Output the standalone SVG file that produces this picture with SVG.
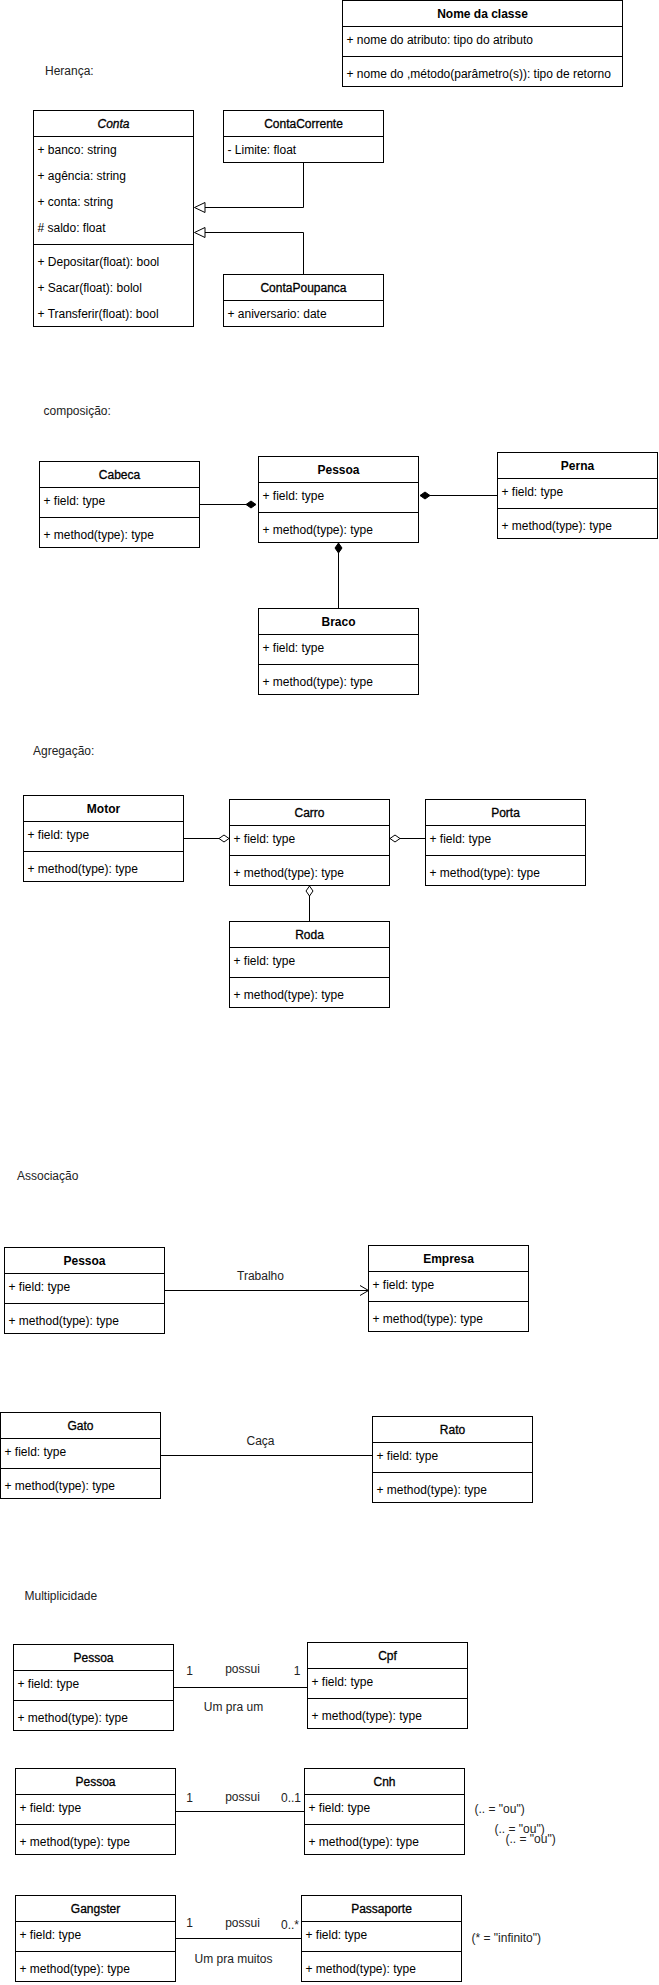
<svg xmlns="http://www.w3.org/2000/svg" width="659" height="1985" viewBox="0 0 659 1985">
<style>
.bg{fill:#fff}
.box{fill:#fff;stroke:#000;stroke-width:1}
.sep{stroke:#000;stroke-width:1}
.t{font-family:"Liberation Sans",Arial,Helvetica,sans-serif;font-size:12px;fill:#000}
.h{text-anchor:middle;font-weight:bold}
.hr{text-anchor:middle;stroke:#000;stroke-width:0.3}
.c{text-anchor:middle}
.lbl{font-family:"Liberation Sans",Arial,Helvetica,sans-serif;font-size:12px;fill:#222}
.edge{fill:none;stroke:#000;stroke-width:1}
.fd{fill:#000;stroke:#000;stroke-width:1}
.hd{fill:#fff;stroke:#000;stroke-width:1}
</style>
<rect class="bg" x="0" y="0" width="659" height="1985"/>

<!-- section labels -->
<g id="labels">
<text class="lbl" x="45" y="75">Herança:</text>
<text class="lbl" x="43.5" y="415">composição:</text>
<text class="lbl" x="33" y="755">Agregação:</text>
<text class="lbl" x="17" y="1180">Associação</text>
<text class="lbl" x="24.5" y="1600">Multiplicidade</text>
</g>

<!-- Nome da classe -->
<g id="nome-da-classe">
<rect class="box" x="342.5" y="0.5" width="280" height="86"/>
<line class="sep" x1="342.5" y1="26.5" x2="622.5" y2="26.5"/>
<line class="sep" x1="342.5" y1="56.5" x2="622.5" y2="56.5"/>
<text class="t h" x="482.5" y="17.5">Nome da classe</text>
<text class="t" x="346.5" y="43.5">+ nome do atributo: tipo do atributo</text>
<text class="t" x="346.5" y="77.5">+ nome do ,método(parâmetro(s)): tipo de retorno</text>
</g>

<!-- Conta -->
<g id="conta">
<rect class="box" x="33.5" y="110.5" width="160" height="216"/>
<line class="sep" x1="33.5" y1="136.5" x2="193.5" y2="136.5"/>
<line class="sep" x1="33.5" y1="244.5" x2="193.5" y2="244.5"/>
<text class="t hr" x="113.5" y="127.5" font-style="italic">Conta</text>
<text class="t" x="37.5" y="153.5">+ banco: string</text>
<text class="t" x="37.5" y="179.5">+ agência: string</text>
<text class="t" x="37.5" y="205.5">+ conta: string</text>
<text class="t" x="37.5" y="231.5"># saldo: float</text>
<text class="t" x="37.5" y="265.5">+ Depositar(float): bool</text>
<text class="t" x="37.5" y="291.5">+ Sacar(float): bolol</text>
<text class="t" x="37.5" y="317.5">+ Transferir(float): bool</text>
</g>

<g id="conta-corrente">
<rect class="box" x="223.5" y="110.5" width="160" height="52"/>
<line class="sep" x1="223.5" y1="136.5" x2="383.5" y2="136.5"/>
<text class="t hr" x="303.5" y="127.5">ContaCorrente</text>
<text class="t" x="227.5" y="153.5">- Limite: float</text>
</g>

<g id="conta-poupanca">
<rect class="box" x="223.5" y="274.5" width="160" height="52"/>
<line class="sep" x1="223.5" y1="300.5" x2="383.5" y2="300.5"/>
<text class="t hr" x="303.5" y="291.5">ContaPoupanca</text>
<text class="t" x="227.5" y="317.5">+ aniversario: date</text>
</g>

<!-- composição -->
<g id="cabeca">
<rect class="box" x="39.5" y="461.5" width="160" height="86"/>
<line class="sep" x1="39.5" y1="487.5" x2="199.5" y2="487.5"/>
<line class="sep" x1="39.5" y1="517.5" x2="199.5" y2="517.5"/>
<text class="t hr" x="119.5" y="478.5">Cabeca</text>
<text class="t" x="43.5" y="504.5">+ field: type</text>
<text class="t" x="43.5" y="538.5">+ method(type): type</text>
</g>

<g id="pessoa-comp">
<rect class="box" x="258.5" y="456.5" width="160" height="86"/>
<line class="sep" x1="258.5" y1="482.5" x2="418.5" y2="482.5"/>
<line class="sep" x1="258.5" y1="512.5" x2="418.5" y2="512.5"/>
<text class="t h" x="338.5" y="473.5">Pessoa</text>
<text class="t" x="262.5" y="499.5">+ field: type</text>
<text class="t" x="262.5" y="533.5">+ method(type): type</text>
</g>

<g id="perna">
<rect class="box" x="497.5" y="452.5" width="160" height="86"/>
<line class="sep" x1="497.5" y1="478.5" x2="657.5" y2="478.5"/>
<line class="sep" x1="497.5" y1="508.5" x2="657.5" y2="508.5"/>
<text class="t h" x="577.5" y="469.5">Perna</text>
<text class="t" x="501.5" y="495.5">+ field: type</text>
<text class="t" x="501.5" y="529.5">+ method(type): type</text>
</g>

<g id="braco">
<rect class="box" x="258.5" y="608.5" width="160" height="86"/>
<line class="sep" x1="258.5" y1="634.5" x2="418.5" y2="634.5"/>
<line class="sep" x1="258.5" y1="664.5" x2="418.5" y2="664.5"/>
<text class="t h" x="338.5" y="625.5">Braco</text>
<text class="t" x="262.5" y="651.5">+ field: type</text>
<text class="t" x="262.5" y="685.5">+ method(type): type</text>
</g>

<!-- Agregação -->
<g id="motor">
<rect class="box" x="23.5" y="795.5" width="160" height="86"/>
<line class="sep" x1="23.5" y1="821.5" x2="183.5" y2="821.5"/>
<line class="sep" x1="23.5" y1="851.5" x2="183.5" y2="851.5"/>
<text class="t h" x="103.5" y="812.5">Motor</text>
<text class="t" x="27.5" y="838.5">+ field: type</text>
<text class="t" x="27.5" y="872.5">+ method(type): type</text>
</g>

<g id="carro">
<rect class="box" x="229.5" y="799.5" width="160" height="86"/>
<line class="sep" x1="229.5" y1="825.5" x2="389.5" y2="825.5"/>
<line class="sep" x1="229.5" y1="855.5" x2="389.5" y2="855.5"/>
<text class="t hr" x="309.5" y="816.5">Carro</text>
<text class="t" x="233.5" y="842.5">+ field: type</text>
<text class="t" x="233.5" y="876.5">+ method(type): type</text>
</g>

<g id="porta">
<rect class="box" x="425.5" y="799.5" width="160" height="86"/>
<line class="sep" x1="425.5" y1="825.5" x2="585.5" y2="825.5"/>
<line class="sep" x1="425.5" y1="855.5" x2="585.5" y2="855.5"/>
<text class="t hr" x="505.5" y="816.5">Porta</text>
<text class="t" x="429.5" y="842.5">+ field: type</text>
<text class="t" x="429.5" y="876.5">+ method(type): type</text>
</g>

<g id="roda">
<rect class="box" x="229.5" y="921.5" width="160" height="86"/>
<line class="sep" x1="229.5" y1="947.5" x2="389.5" y2="947.5"/>
<line class="sep" x1="229.5" y1="977.5" x2="389.5" y2="977.5"/>
<text class="t hr" x="309.5" y="938.5">Roda</text>
<text class="t" x="233.5" y="964.5">+ field: type</text>
<text class="t" x="233.5" y="998.5">+ method(type): type</text>
</g>

<!-- Associação -->
<g id="pessoa-assoc">
<rect class="box" x="4.5" y="1247.5" width="160" height="86"/>
<line class="sep" x1="4.5" y1="1273.5" x2="164.5" y2="1273.5"/>
<line class="sep" x1="4.5" y1="1303.5" x2="164.5" y2="1303.5"/>
<text class="t h" x="84.5" y="1264.5">Pessoa</text>
<text class="t" x="8.5" y="1290.5">+ field: type</text>
<text class="t" x="8.5" y="1324.5">+ method(type): type</text>
</g>

<g id="empresa">
<rect class="box" x="368.5" y="1245.5" width="160" height="86"/>
<line class="sep" x1="368.5" y1="1271.5" x2="528.5" y2="1271.5"/>
<line class="sep" x1="368.5" y1="1301.5" x2="528.5" y2="1301.5"/>
<text class="t h" x="448.5" y="1262.5">Empresa</text>
<text class="t" x="372.5" y="1288.5">+ field: type</text>
<text class="t" x="372.5" y="1322.5">+ method(type): type</text>
</g>

<g id="gato">
<rect class="box" x="0.5" y="1412.5" width="160" height="86"/>
<line class="sep" x1="0.5" y1="1438.5" x2="160.5" y2="1438.5"/>
<line class="sep" x1="0.5" y1="1468.5" x2="160.5" y2="1468.5"/>
<text class="t hr" x="80.5" y="1429.5">Gato</text>
<text class="t" x="4.5" y="1455.5">+ field: type</text>
<text class="t" x="4.5" y="1489.5">+ method(type): type</text>
</g>

<g id="rato">
<rect class="box" x="372.5" y="1416.5" width="160" height="86"/>
<line class="sep" x1="372.5" y1="1442.5" x2="532.5" y2="1442.5"/>
<line class="sep" x1="372.5" y1="1472.5" x2="532.5" y2="1472.5"/>
<text class="t hr" x="452.5" y="1433.5">Rato</text>
<text class="t" x="376.5" y="1459.5">+ field: type</text>
<text class="t" x="376.5" y="1493.5">+ method(type): type</text>
</g>

<!-- Multiplicidade -->
<g id="pessoa-cpf">
<rect class="box" x="13.5" y="1644.5" width="160" height="86"/>
<line class="sep" x1="13.5" y1="1670.5" x2="173.5" y2="1670.5"/>
<line class="sep" x1="13.5" y1="1700.5" x2="173.5" y2="1700.5"/>
<text class="t hr" x="93.5" y="1661.5">Pessoa</text>
<text class="t" x="17.5" y="1687.5">+ field: type</text>
<text class="t" x="17.5" y="1721.5">+ method(type): type</text>
</g>

<g id="cpf">
<rect class="box" x="307.5" y="1642.5" width="160" height="86"/>
<line class="sep" x1="307.5" y1="1668.5" x2="467.5" y2="1668.5"/>
<line class="sep" x1="307.5" y1="1698.5" x2="467.5" y2="1698.5"/>
<text class="t hr" x="387.5" y="1659.5">Cpf</text>
<text class="t" x="311.5" y="1685.5">+ field: type</text>
<text class="t" x="311.5" y="1719.5">+ method(type): type</text>
</g>

<g id="pessoa-cnh">
<rect class="box" x="15.5" y="1768.5" width="160" height="86"/>
<line class="sep" x1="15.5" y1="1794.5" x2="175.5" y2="1794.5"/>
<line class="sep" x1="15.5" y1="1824.5" x2="175.5" y2="1824.5"/>
<text class="t hr" x="95.5" y="1785.5">Pessoa</text>
<text class="t" x="19.5" y="1811.5">+ field: type</text>
<text class="t" x="19.5" y="1845.5">+ method(type): type</text>
</g>

<g id="cnh">
<rect class="box" x="304.5" y="1768.5" width="160" height="86"/>
<line class="sep" x1="304.5" y1="1794.5" x2="464.5" y2="1794.5"/>
<line class="sep" x1="304.5" y1="1824.5" x2="464.5" y2="1824.5"/>
<text class="t hr" x="384.5" y="1785.5">Cnh</text>
<text class="t" x="308.5" y="1811.5">+ field: type</text>
<text class="t" x="308.5" y="1845.5">+ method(type): type</text>
</g>

<g id="gangster">
<rect class="box" x="15.5" y="1895.5" width="160" height="86"/>
<line class="sep" x1="15.5" y1="1921.5" x2="175.5" y2="1921.5"/>
<line class="sep" x1="15.5" y1="1951.5" x2="175.5" y2="1951.5"/>
<text class="t hr" x="95.5" y="1912.5">Gangster</text>
<text class="t" x="19.5" y="1938.5">+ field: type</text>
<text class="t" x="19.5" y="1972.5">+ method(type): type</text>
</g>

<g id="passaporte">
<rect class="box" x="301.5" y="1895.5" width="160" height="86"/>
<line class="sep" x1="301.5" y1="1921.5" x2="461.5" y2="1921.5"/>
<line class="sep" x1="301.5" y1="1951.5" x2="461.5" y2="1951.5"/>
<text class="t hr" x="381.5" y="1912.5">Passaporte</text>
<text class="t" x="305.5" y="1938.5">+ field: type</text>
<text class="t" x="305.5" y="1972.5">+ method(type): type</text>
</g>

<!-- connectors -->
<g id="connectors">
<path class="edge" d="M303.5,162.5 V207.5 H205"/>
<polygon class="hd" points="194.5,207.5 205,202.5 205,212.5"/>
<path class="edge" d="M303.5,274.5 V232.5 H205"/>
<polygon class="hd" points="194.5,232.5 205,227.5 205,237.5"/>

<path class="edge" d="M199.5,504.5 H246"/>
<polygon class="fd" points="246,504.5 251,501 256,504.5 251,508"/>
<path class="edge" d="M497.5,495.5 H430"/>
<polygon class="fd" points="420,495.5 425,492 430,495.5 425,499"/>
<path class="edge" d="M338.5,608.5 V553"/>
<polygon class="fd" points="338.5,543 342,548 338.5,553 335,548"/>

<path class="edge" d="M183.5,838.5 H219"/>
<polygon class="hd" points="219,838.5 224,835 229,838.5 224,842"/>
<path class="edge" d="M425.5,838.5 H400"/>
<polygon class="hd" points="390,838.5 395,835 400,838.5 395,842"/>
<path class="edge" d="M309.5,921.5 V896"/>
<polygon class="hd" points="309.5,886 313,891 309.5,896 306,891"/>

<path class="edge" d="M164.5,1290.5 H368"/>
<polyline class="edge" points="360,1285.5 368.5,1290.5 360,1295.5"/>
<text class="lbl c" x="260.5" y="1280">Trabalho</text>

<path class="edge" d="M160.5,1455.5 H372.5"/>
<text class="lbl c" x="260.5" y="1445">Caça</text>

<path class="edge" d="M173.5,1687.5 H307.5"/>
<text class="lbl c" x="189.5" y="1675">1</text>
<text class="lbl c" x="242.5" y="1673">possui</text>
<text class="lbl c" x="297" y="1675">1</text>
<text class="lbl c" x="233.5" y="1711">Um pra um</text>

<path class="edge" d="M175.5,1811.5 H304.5"/>
<text class="lbl c" x="189.5" y="1801.5">1</text>
<text class="lbl c" x="242.5" y="1801">possui</text>
<text class="lbl c" x="291" y="1801.5">0..1</text>

<path class="edge" d="M175.5,1938.5 H301.5"/>
<text class="lbl c" x="189.5" y="1927">1</text>
<text class="lbl c" x="242.5" y="1927">possui</text>
<text class="lbl c" x="290" y="1928.5">0..*</text>
<text class="lbl c" x="233.5" y="1963">Um pra muitos</text>
</g>

<g id="notes">
<text class="lbl" x="474.5" y="1813">(.. = "ou")</text>
<text class="lbl" x="494.5" y="1832.5">(.. = "ou")</text>
<text class="lbl" x="505.5" y="1842.5">(.. = "ou")</text>
<text class="lbl" x="471.5" y="1942">(* = "infinito")</text>
</g>
</svg>
